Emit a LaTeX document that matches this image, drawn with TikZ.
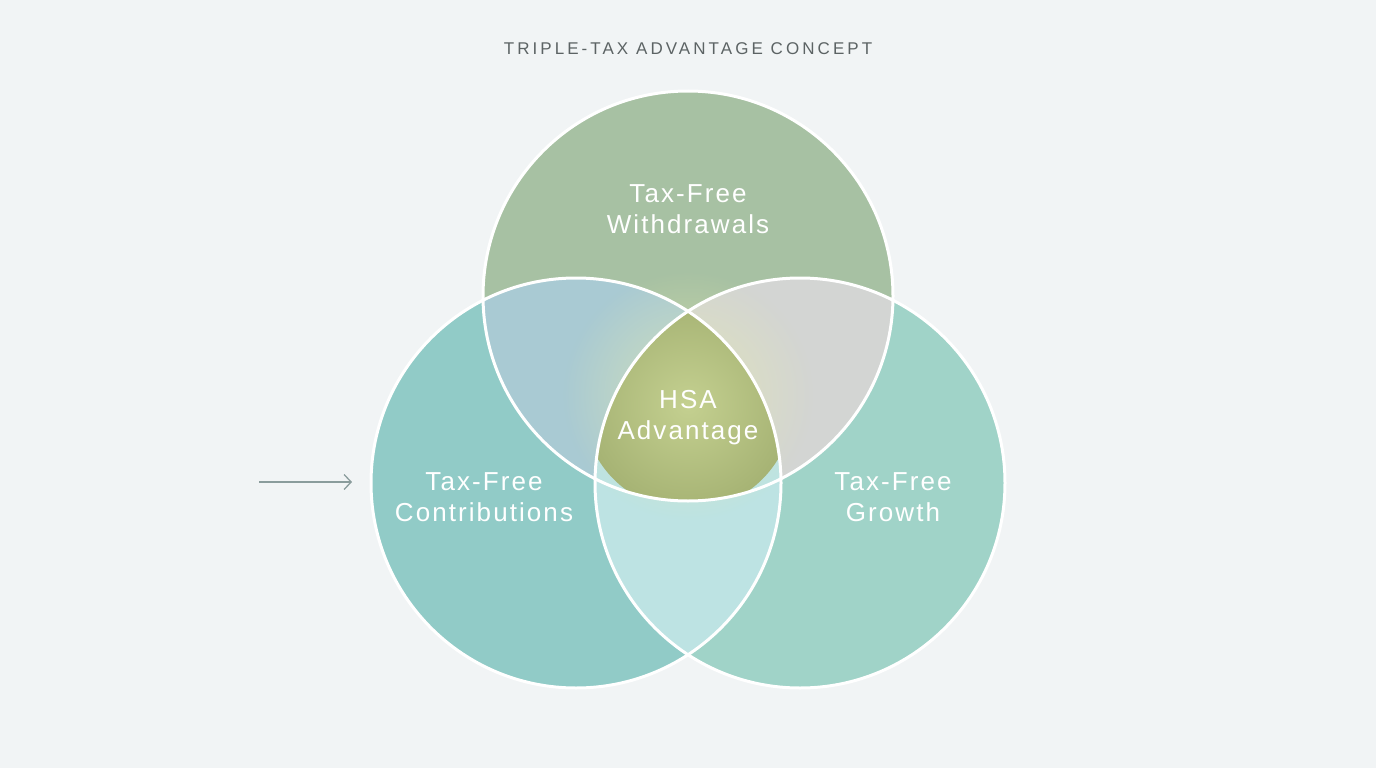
\documentclass[tikz,border=0pt]{standalone}
\usepackage{fontspec}
\setmainfont{Liberation Sans}
\newfontfamily\titlefont[LetterSpace=18]{Liberation Sans}
\newfontfamily\lblfont[LetterSpace=8]{Liberation Sans}
\usetikzlibrary{arrows.meta,fadings}
\definecolor{bg}{HTML}{F1F4F5}
\definecolor{topc}{HTML}{A7C1A3}
\definecolor{leftc}{HTML}{91CBC7}
\definecolor{rightc}{HTML}{A0D3C8}
\definecolor{ltc}{HTML}{A9CAD3}
\definecolor{trc}{HTML}{D3D5D3}
\definecolor{lrc}{HTML}{BDE3E3}
\definecolor{cin}{HTML}{C4D090}
\definecolor{cout}{HTML}{A6B374}
\definecolor{glowc}{HTML}{E6EBAE}
\definecolor{titlec}{HTML}{5C6364}
\definecolor{arrowc}{HTML}{8A9C9C}
\tikzfading[name=glowfade, inner color=transparent!35, outer color=transparent!100]
\tikzset{
  lbl/.style={text=white, align=center, font=\lblfont\fontsize{26}{31}\selectfont},
  ring/.style={draw=white, line width=3pt},
}
\begin{document}
\begin{tikzpicture}[x=1pt,y=-1pt]
\fill[bg] (0,0) rectangle (1376,768);
\useasboundingbox (0,0) rectangle (1376,768);
\coordinate (cT) at (688,296);
\coordinate (cL) at (576,483);
\coordinate (cR) at (800,483);
\def\rad{205pt}
% base circles
\fill[leftc] (cL) circle (\rad);
\fill[rightc] (cR) circle (\rad);
\fill[topc] (cT) circle (\rad);
% pairwise overlaps
\begin{scope}\clip (cL) circle (\rad); \fill[ltc] (cT) circle (\rad);\end{scope}
\begin{scope}\clip (cT) circle (\rad); \fill[trc] (cR) circle (\rad);\end{scope}
\begin{scope}\clip (cL) circle (\rad); \fill[lrc] (cR) circle (\rad);\end{scope}
% glow
\fill[glowc, path fading=glowfade] (688,395) circle (125pt);
% triple overlap
\begin{scope}
  \clip (cL) circle (\rad);
  \clip (cR) circle (\rad);
  \clip (cT) circle (\rad);
  \shade[inner color=cin, outer color=cout] (688,405) circle (105pt);
\end{scope}
% outlines
\draw[ring] (cL) circle (\rad);
\draw[ring] (cR) circle (\rad);
\draw[ring] (cT) circle (\rad);
% labels
\node[lbl] (wd) at (688,209) {Tax-Free\\Withdrawals};
\node[lbl] (hsa) at (688,418) {HSA\\Advantage};
\node[lbl] (con) at (484,497) {Tax-Free\\Contributions};
\node[lbl] (gro) at (893,497) {Tax-Free\\Growth};
\node[text=titlec, font=\titlefont\fontsize{17}{20}\selectfont] (title) at (688,49) {TRIPLE-TAX ADVANTAGE CONCEPT};
% arrow
\coordinate (a1) at (259,482);
\coordinate (a2) at (352,482);
\draw[arrowc, line width=1.3pt, -{Straight Barb[length=7pt,width=15pt]}] (a1) -- (a2);
\end{tikzpicture}
\end{document}
